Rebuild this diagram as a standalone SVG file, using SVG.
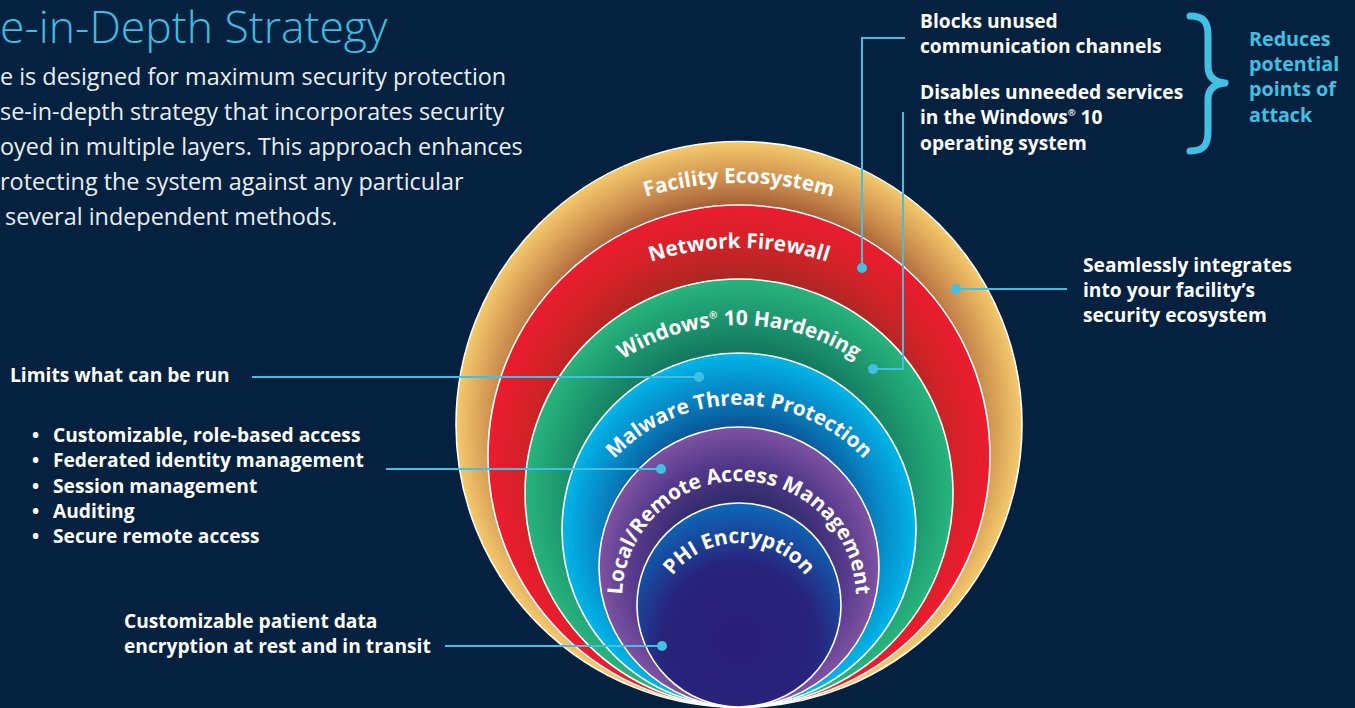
<svg xmlns="http://www.w3.org/2000/svg" xmlns:xlink="http://www.w3.org/1999/xlink" width="1355" height="708" viewBox="0 0 1355 708">
  <defs>
    <style>
      .bg { fill: #04223f; }
      .title { font-family: "Open Sans", "Noto Sans", sans-serif; font-weight: 300; font-size: 44.5px; fill: #3fbde3; }
      .para { font-family: "Open Sans", "Noto Sans", sans-serif; font-weight: 400; font-size: 23.4px; fill: #e8eef4; }
      .note { font-family: "Open Sans", "Noto Sans", sans-serif; font-weight: 700; font-size: 19.2px; fill: #ffffff; }
      .accent { font-family: "Open Sans", "Noto Sans", sans-serif; font-weight: 700; font-size: 19.7px; fill: #41c0e4; }
      .ring-label { font-family: "Open Sans", "Noto Sans", sans-serif; font-weight: 700; font-size: 20.8px; fill: #ffffff; }
      .ring { stroke: #ffffff; stroke-width: 1.6; }
      .wire { fill: none; stroke: #41c0e4; stroke-width: 2; }
      .dot { fill: #41c0e4; }
      .brace { fill: none; stroke: #41c0e4; stroke-width: 7; stroke-linecap: round; stroke-linejoin: round; }
    </style>

    <!-- ring fills: darker toward the centre, bright at the rim -->
    <radialGradient id="gFacility" cx="739" cy="424.5" r="283" gradientUnits="userSpaceOnUse">
      <stop offset="0.74" stop-color="#944d2e"/>
      <stop offset="0.86" stop-color="#c98a4c"/>
      <stop offset="1" stop-color="#f4c96c"/>
    </radialGradient>
    <radialGradient id="gFirewall" cx="739" cy="456" r="251" gradientUnits="userSpaceOnUse">
      <stop offset="0.66" stop-color="#9c2a20"/>
      <stop offset="0.85" stop-color="#d22228"/>
      <stop offset="1" stop-color="#ec1c2e"/>
    </radialGradient>
    <radialGradient id="gWindows" cx="739" cy="493" r="214" gradientUnits="userSpaceOnUse">
      <stop offset="0.6" stop-color="#0f6c58"/>
      <stop offset="0.85" stop-color="#1e9a70"/>
      <stop offset="1" stop-color="#28b47d"/>
    </radialGradient>
    <radialGradient id="gMalware" cx="739" cy="530" r="177" gradientUnits="userSpaceOnUse">
      <stop offset="0.55" stop-color="#0b4a8c"/>
      <stop offset="0.8" stop-color="#0788c6"/>
      <stop offset="1" stop-color="#00b6e8"/>
    </radialGradient>
    <radialGradient id="gAccess" cx="739" cy="567" r="140" gradientUnits="userSpaceOnUse">
      <stop offset="0.45" stop-color="#2c2a68"/>
      <stop offset="0.75" stop-color="#55398a"/>
      <stop offset="1" stop-color="#7e52a2"/>
    </radialGradient>
    <radialGradient id="gPHI" cx="739" cy="640" r="140" gradientUnits="userSpaceOnUse">
      <stop offset="0" stop-color="#2a1e77"/>
      <stop offset="0.55" stop-color="#28237b"/>
      <stop offset="1" stop-color="#0a6cbd"/>
    </radialGradient>

    <!-- baseline arcs for the ring captions -->
    <path id="arcFacility" d="M417,505 A322,322 0 0 1 1061,505"/>
    <path id="arcFirewall" d="M449,538 A290,290 0 0 1 1029,538"/>
    <path id="arcWindows" d="M525.5,538.5 A213.5,213.5 0 0 1 952.5,538.5"/>
    <path id="arcMalware" d="M568,576 A171,171 0 0 1 910,576"/>
    <path id="arcAccess" d="M622,598 A117,117 0 0 1 856,598"/>
    <path id="arcPHI" d="M655,627 A84,84 0 0 1 823,627"/>
  </defs>

  <rect class="bg" x="0" y="0" width="1355" height="708"/>

  <!-- heading and intro copy -->
  <g id="intro">
    <text class="title" x="0" y="43">e-in-Depth Strategy</text>
    <text class="para" x="0" y="85">e is designed for maximum security protection</text>
    <text class="para" x="0" y="120">se-in-depth strategy that incorporates security</text>
    <text class="para" x="0" y="155">oyed in multiple layers. This approach enhances</text>
    <text class="para" x="0" y="190">rotecting the system against any particular</text>
    <text class="para" x="5" y="225">several independent methods.</text>
  </g>

  <!-- concentric security layers, all touching at the bottom -->
  <g id="layer-facility">
    <circle class="ring" cx="739" cy="424.5" r="283" fill="url(#gFacility)"/>
  </g>
  <g id="layer-firewall">
    <circle class="ring" cx="739" cy="456" r="251" fill="url(#gFirewall)"/>
  </g>
  <g id="layer-windows">
    <circle class="ring" cx="739" cy="493" r="214" fill="url(#gWindows)"/>
  </g>
  <g id="layer-malware">
    <circle class="ring" cx="739" cy="530" r="177" fill="url(#gMalware)"/>
  </g>
  <g id="layer-access">
    <circle class="ring" cx="739" cy="567" r="140" fill="url(#gAccess)"/>
  </g>
  <g id="layer-phi">
    <circle class="ring" cx="739" cy="605" r="102" fill="url(#gPHI)"/>
  </g>

  <!-- ring captions -->
  <g id="captions">
    <text class="ring-label"><textPath href="#arcFacility" startOffset="50%" text-anchor="middle">Facility Ecosystem</textPath></text>
    <text class="ring-label"><textPath href="#arcFirewall" startOffset="50%" text-anchor="middle">Network Firewall</textPath></text>
    <text class="ring-label"><textPath href="#arcWindows" startOffset="50%" text-anchor="middle">Windows<tspan font-size="10" dy="-8">®</tspan><tspan dy="8"> 10 Hardening</tspan></textPath></text>
    <text class="ring-label"><textPath href="#arcMalware" startOffset="50%" text-anchor="middle">Malware Threat Protection</textPath></text>
    <text class="ring-label"><textPath href="#arcAccess" startOffset="50%" text-anchor="middle">Local/Remote Access Management</textPath></text>
    <text class="ring-label"><textPath href="#arcPHI" startOffset="50%" text-anchor="middle">PHI Encryption</textPath></text>
  </g>

  <!-- leader lines from notes to layers -->
  <g id="connectors">
    <polyline class="wire" points="905,38 862,38 862,268"/>
    <polyline class="wire" points="903,112 903,369 873,369"/>
    <line class="wire" x1="956" y1="289" x2="1067" y2="289"/>
    <line class="wire" x1="252" y1="377" x2="699" y2="377"/>
    <line class="wire" x1="386" y1="469" x2="661" y2="469"/>
    <line class="wire" x1="445" y1="646" x2="662" y2="646"/>
    <circle class="dot" cx="862" cy="268" r="5"/>
    <circle class="dot" cx="873" cy="369" r="5"/>
    <circle class="dot" cx="956" cy="289" r="5"/>
    <circle class="dot" cx="699" cy="377" r="5"/>
    <circle class="dot" cx="661" cy="469" r="5"/>
    <circle class="dot" cx="662" cy="646" r="5"/>
  </g>

  <!-- notes -->
  <g id="note-firewall">
    <text class="note" x="920" y="28">Blocks unused</text>
    <text class="note" x="920" y="53">communication channels</text>
  </g>
  <g id="note-windows">
    <text class="note" x="920" y="99">Disables unneeded services</text>
    <text class="note" x="920" y="124">in the Windows<tspan font-size="9.5" dy="-8">®</tspan><tspan dy="8"> 10</tspan></text>
    <text class="note" x="920" y="150">operating system</text>
  </g>
  <g id="note-attack">
    <path class="brace" d="M1190,16 C1204,16 1208,22 1208,36 L1208,66 C1208,76 1213,82 1225,83 C1213,84 1208,90 1208,100 L1208,131 C1208,145 1204,151 1190,151"/>
    <text class="accent" x="1249" y="46">Reduces</text>
    <text class="accent" x="1249" y="71">potential</text>
    <text class="accent" x="1249" y="96">points of</text>
    <text class="accent" x="1249" y="122">attack</text>
  </g>
  <g id="note-facility">
    <text class="note" x="1083" y="272">Seamlessly integrates</text>
    <text class="note" x="1083" y="297">into your facility’s</text>
    <text class="note" x="1083" y="322">security ecosystem</text>
  </g>
  <g id="note-malware">
    <text class="note" x="10" y="382">Limits what can be run</text>
  </g>
  <g id="note-access">
    <text class="note" x="32" y="442">•</text><text class="note" x="53" y="442">Customizable, role-based access</text>
    <text class="note" x="32" y="467">•</text><text class="note" x="53" y="467">Federated identity management</text>
    <text class="note" x="32" y="493">•</text><text class="note" x="53" y="493">Session management</text>
    <text class="note" x="32" y="518">•</text><text class="note" x="53" y="518">Auditing</text>
    <text class="note" x="32" y="543">•</text><text class="note" x="53" y="543">Secure remote access</text>
  </g>
  <g id="note-phi">
    <text class="note" x="124" y="628">Customizable patient data</text>
    <text class="note" x="124" y="653">encryption at rest and in transit</text>
  </g>
</svg>
